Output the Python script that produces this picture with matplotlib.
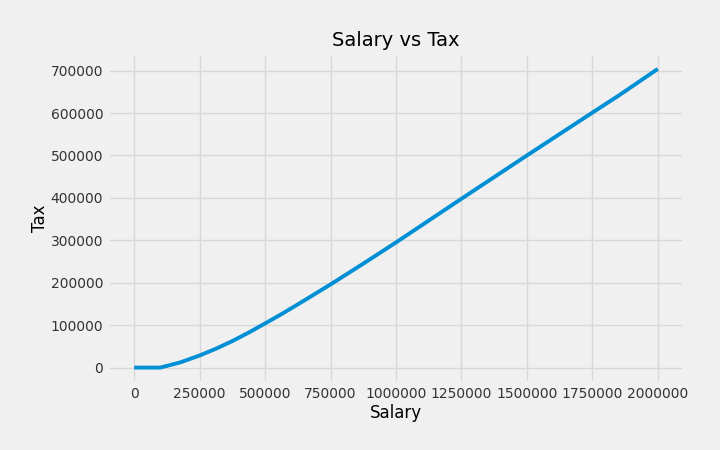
import matplotlib
matplotlib.use("Agg")
import matplotlib.pyplot as plt

# Salary vs tax
salary = [0, 50000, 100000, 175000, 250000, 312500, 375000, 437500, 500000,
          562500, 625000, 687500, 750000, 875000, 1000000,
          1250000, 1500000, 1750000, 1850000, 2000000]
tax = [0, 0, 0, 12000, 28500, 44500, 62500, 82500, 104000,
       126000, 149000, 172500, 196000, 245000, 295000,
       398000, 500000, 601000, 641000, 704000]

plt.style.use("fivethirtyeight")

fig, ax = plt.subplots(figsize=(7.2, 4.5), dpi=100)
ax.plot(salary, tax, linewidth=2.8)

ax.set_title("Salary vs Tax", fontsize=14)
ax.set_xlabel("Salary", fontsize=12, labelpad=2)
ax.set_ylabel("Tax", fontsize=12, labelpad=1)
ax.tick_params(labelsize=10, labelcolor="#333333")
ax.grid(color="#d8d8d8")
ax.ticklabel_format(style="plain")
ax.set_xticks([0, 250000, 500000, 750000, 1000000, 1250000, 1500000, 1750000, 2000000])

fig.subplots_adjust(left=0.15, right=0.95, top=0.88, bottom=0.15)
fig.savefig("out.png")
